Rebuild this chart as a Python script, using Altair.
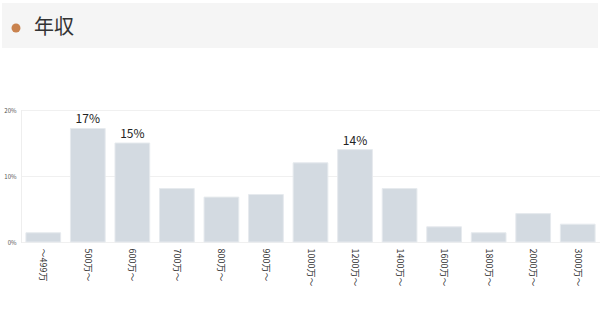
import altair as alt
import pandas as pd

categories = ["～499万", "500万～", "600万～", "700万～", "800万～", "900万～",
              "1000万～", "1200万～", "1400万～", "1600万～", "1800万～", "2000万～", "3000万～"]
values = [1.4, 17.2, 15.0, 8.1, 6.8, 7.2, 12.0, 14.0, 8.1, 2.3, 1.4, 4.3, 2.7]
bar_labels = ["", "17%", "15%", "", "", "", "", "14%", "", "", "", "", ""]
title_text = "年収"

df = pd.DataFrame({"cat": categories, "val": [v / 100 for v in values], "lab": bar_labels})

FONT = "Noto Sans CJK JP"

x = alt.X("cat:N", sort=categories, title=None,
          scale=alt.Scale(paddingInner=0.22, paddingOuter=0.11),
          axis=alt.Axis(labelAngle=90, labelAlign="left", labelBaseline="middle",
                        labelFontSize=9, labelColor="#333333", labelPadding=6,
                        ticks=False, domain=False, labelFont=FONT))
y = alt.Y("val:Q", title=None,
          scale=alt.Scale(domain=[0, 0.2], nice=False),
          axis=alt.Axis(values=[0, 0.1, 0.2], format=".0%", labelFontSize=6,
                        labelColor="#555555", ticks=False, domain=True,
                        domainColor="#eeeeee", gridColor="#f0f0f0", labelPadding=5,
                        labelBaseline="middle", labelFont=FONT))

bars = alt.Chart(df).mark_bar(color="#d3dae1", stroke="#e6eaee", strokeWidth=1).encode(x=x, y=y)

texts = alt.Chart(df).mark_text(dy=-9, fontSize=12, color="#222222", font=FONT).encode(
    x=alt.X("cat:N", sort=categories), y="val:Q", text="lab:N")

header_df = pd.DataFrame({"t": [title_text]})
header_rect = alt.Chart(header_df).mark_rect(color="#f5f5f5", clip=False).encode(
    x=alt.value(-19), x2=alt.value(577), y=alt.value(-107), y2=alt.value(-62))
header_dot = alt.Chart(header_df).mark_point(filled=True, color="#c9824e", size=80,
                                             opacity=1, clip=False).encode(
    x=alt.value(-5), y=alt.value(-82))
header_text = alt.Chart(header_df).mark_text(align="left", baseline="middle", fontSize=20,
                                             color="#333333", font=FONT, clip=False).encode(
    x=alt.value(13), y=alt.value(-82), text="t:N")

chart = alt.layer(header_rect, header_dot, header_text, bars, texts).properties(
    width=579, height=132,
    padding={"left": 21, "top": 110, "right": 0, "bottom": 85},
    autosize=alt.AutoSizeParams(type="none"),
).configure_view(stroke=None).configure(background="white")

chart.save("out.html", embed_options={"renderer": "svg", "actions": False})
